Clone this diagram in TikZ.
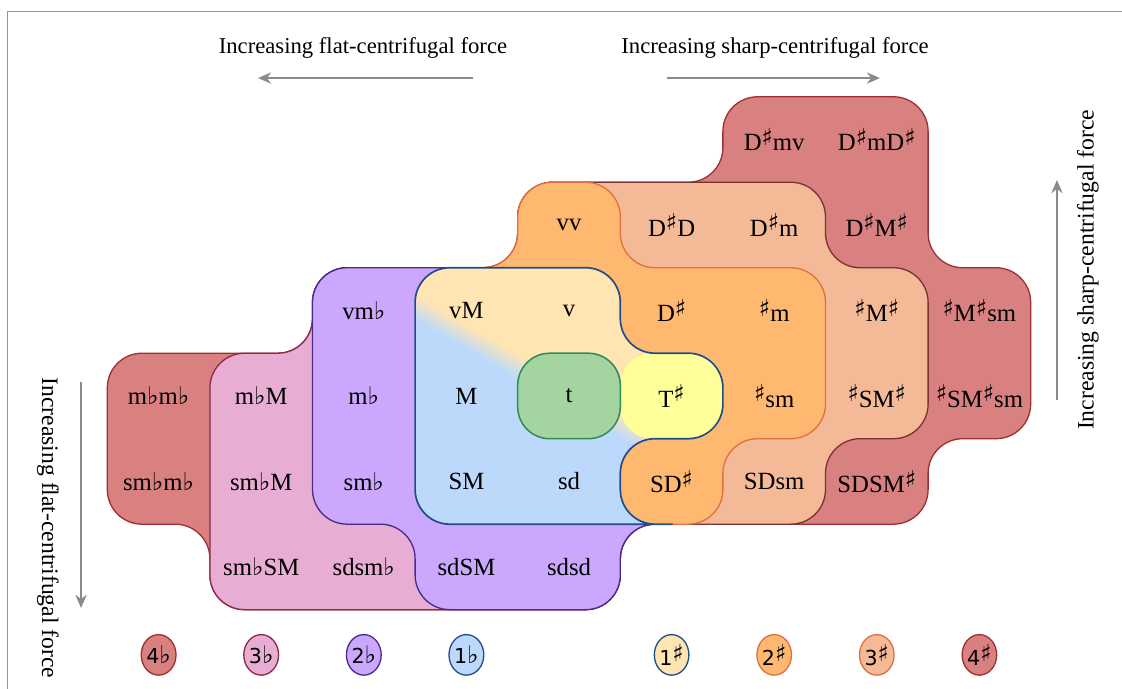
\documentclass[tikz,border=0pt]{standalone}
\usepackage{fontspec}
\setmainfont{Liberation Serif}
\newfontfamily\keyfont{DejaVu Sans}
\usetikzlibrary{arrows.meta,positioning,shapes.geometric}
\definecolor{flatone}{RGB}{188,217,252}
\definecolor{sharpone}{RGB}{255,229,178}
\definecolor{sharptwo}{RGB}{255,184,112}
\definecolor{sharpthree}{RGB}{244,185,150}
\definecolor{fourcol}{RGB}{217,128,128}
\definecolor{flattwo}{RGB}{203,168,253}
\definecolor{flatthree}{RGB}{232,173,211}
\definecolor{tonicgreen}{RGB}{164,212,160}
\definecolor{tonicline}{RGB}{46,139,87}
\definecolor{tsharp}{RGB}{255,255,153}
\definecolor{blueline}{RGB}{32,76,140}
\definecolor{orangeline}{RGB}{224,112,64}
\definecolor{salmonline}{RGB}{122,50,50}
\definecolor{redline}{RGB}{160,48,48}
\definecolor{pinkline}{RGB}{140,40,72}
\definecolor{purpleline}{RGB}{74,42,140}
\definecolor{arrowgray}{RGB}{138,138,138}
\definecolor{framegray}{RGB}{150,150,150}
\pgfdeclareverticalshading{toneshade}{100bp}{color(0bp)=(flatone); color(48bp)=(flatone); color(52bp)=(sharpone); color(100bp)=(sharpone)}
\newcommand{\shp}{\raisebox{0.22em}{\keyfont\fontsize{12.5}{12}\selectfont ♯}}
\newcommand{\flt}{{\keyfont\fontsize{13}{13}\selectfont ♭}}

\begin{document}
\begin{tikzpicture}[x=1.924cm, y=1.603cm,
  region/.style={line width=0.7pt, rounded corners=0.65cm},
  cell/.style={font=\fontsize{13.2}{15}\selectfont, inner sep=1pt},
  key/.style={ellipse, minimum width=0.6cm, minimum height=0.76cm, inner sep=0pt,
              line width=0.7pt, font=\keyfont\fontsize{11}{13}\selectfont},
  force/.style={draw=arrowgray, line width=1.1pt, -{Stealth[length=7pt,width=6pt]}},
  forcelabel/.style={font=\fontsize{12.1}{14}\selectfont, inner sep=0pt},
  sidelabel/.style={font=\fontsize{12.6}{14}\selectfont, inner sep=0pt}]
\useasboundingbox (-5.546,-3.427) rectangle (5.390,4.632);

% sharp regions, outermost first
\filldraw[region, fill=fourcol, draw=redline] (1.5,3.5) -- (3.5,3.5) -- (3.5,1.5) -- (4.5,1.5)
  -- (4.5,-0.5) -- (3.5,-0.5) -- (3.5,-1.5) -- (-1.5,-1.5) -- (-1.5,1.5) -- (-0.5,1.5)
  -- (-0.5,2.5) -- (1.5,2.5) -- cycle;
\filldraw[region, fill=sharpthree, draw=salmonline] (-0.5,2.5) -- (2.5,2.5) -- (2.5,1.5)
  -- (3.5,1.5) -- (3.5,-0.5) -- (2.5,-0.5) -- (2.5,-1.5) -- (-1.5,-1.5) -- (-1.5,1.5)
  -- (-0.5,1.5) -- cycle;
\filldraw[region, fill=sharptwo, draw=orangeline] (-0.5,2.5) -- (0.5,2.5) -- (0.5,1.5)
  -- (2.5,1.5) -- (2.5,-0.5) -- (1.5,-0.5) -- (1.5,-1.5) -- (-1.5,-1.5) -- (-1.5,1.5)
  -- (-0.5,1.5) -- cycle;

% flat regions
\filldraw[region, fill=fourcol, draw=redline] (-4.5,0.5) -- (-2.5,0.5) -- (-2.5,1.5)
  -- (-0.5,1.5) -- (-0.5,-0.5) [sharp corners] -- (1,-0.5) -- (1,-1.5)
  [rounded corners=0.65cm] -- (0.5,-1.5) -- (0.5,-2.5) -- (-3.5,-2.5) -- (-3.5,-1.5)
  -- (-4.5,-1.5) -- cycle;
\filldraw[region, fill=flatthree, draw=pinkline] (-3.5,0.5) -- (-2.5,0.5) -- (-2.5,1.5)
  -- (-0.5,1.5) -- (-0.5,-0.5) [sharp corners] -- (1,-0.5) -- (1,-1.5)
  [rounded corners=0.65cm] -- (0.5,-1.5) -- (0.5,-2.5) -- (-3.5,-2.5) -- cycle;
\filldraw[region, fill=flattwo, draw=purpleline] (-2.5,1.5) -- (-0.5,1.5) -- (-0.5,-0.5)
  [sharp corners] -- (1,-0.5) -- (1,-1.5) [rounded corners=0.65cm] -- (0.5,-1.5)
  -- (0.5,-2.5) -- (-1.5,-2.5) -- (-1.5,-1.5) -- (-2.5,-1.5) -- cycle;

% one-accidental region
\shade[region, shading=toneshade, shading angle=-30] (-1.5,1.5) -- (0.5,1.5) -- (0.5,0.5)
  -- (1.5,0.5) -- (1.5,-0.5) [sharp corners] -- (1,-0.5) -- (1,-1.5)
  [rounded corners=0.65cm] -- (-1.5,-1.5) -- cycle;
\node[cell, fill=tsharp, rounded corners=0.6cm, minimum width=1.924cm,
      minimum height=1.603cm] (Ts) at (1,0) {T\shp};
\fill[region, fill=sharptwo] (0.5,-0.5) rectangle (1.45,-1.49);
\draw[region, draw=blueline, line width=0.9pt] (1,-1.5) -- (-1.5,-1.5) -- (-1.5,1.5)
  -- (0.5,1.5) -- (0.5,0.5) -- (1.5,0.5) -- (1.5,-0.5) -- (0.5,-0.5) -- (0.5,-1.5) -- (1,-1.5);
\node[cell, draw=tonicline, fill=tonicgreen, line width=0.8pt, rounded corners=0.6cm,
      minimum width=1.924cm, minimum height=1.603cm] (t) at (0,0) {t};

% chord labels
\node[cell] (Dmv) at (2,3) {D\shp mv};
\node[cell] (DmD) at (3,3) {D\shp mD\shp};
\node[cell] (vv) at (0,2) {vv};
\node[cell] (DD) at (1,2) {D\shp D};
\node[cell] (Dm) at (2,2) {D\shp m};
\node[cell] (DM) at (3,2) {D\shp M\shp};
\node[cell] (vmf) at (-2,1) {vm\flt};
\node[cell] (vM) at (-1,1) {vM};
\node[cell] (v) at (0,1) {v};
\node[cell] (Ds) at (1,1) {D\shp};
\node[cell] (sm) at (2,1) {\shp m};
\node[cell] (MM) at (3,1) {\shp M\shp};
\node[cell] (MMsm) at (4,1) {\shp M\shp sm};
\node[cell] (mfmf) at (-4,0) {m\flt m\flt};
\node[cell] (mfM) at (-3,0) {m\flt M};
\node[cell] (mf) at (-2,0) {m\flt};
\node[cell] (M) at (-1,0) {M};
\node[cell] (ssm) at (2,0) {\shp sm};
\node[cell] (SMs) at (3,0) {\shp SM\shp};
\node[cell] (SMsm) at (4,0) {\shp SM\shp sm};
\node[cell] (smfmf) at (-4,-1) {sm\flt m\flt};
\node[cell] (smfM) at (-3,-1) {sm\flt M};
\node[cell] (smf) at (-2,-1) {sm\flt};
\node[cell] (SM) at (-1,-1) {SM};
\node[cell] (sd) at (0,-1) {sd};
\node[cell] (SDs) at (1,-1) {SD\shp};
\node[cell] (SDsm) at (2,-1) {SDsm};
\node[cell] (SDSM) at (3,-1) {SDSM\shp};
\node[cell] (smfSM) at (-3,-2) {sm\flt SM};
\node[cell] (sdsmf) at (-2,-2) {sdsm\flt};
\node[cell] (sdSM) at (-1,-2) {sdSM};
\node[cell] (sdsd) at (0,-2) {sdsd};

% key
\node[key, fill=fourcol, draw=redline] (kf4) at (-4,-3.029) {4\flt};
\node[key, fill=flatthree, draw=pinkline] (kf3) at (-3,-3.029) {3\flt};
\node[key, fill=flattwo, draw=purpleline] (kf2) at (-2,-3.029) {2\flt};
\node[key, fill=flatone, draw=blueline] (kf1) at (-1,-3.029) {1\flt};
\node[key, fill=sharpone, draw=blueline] (ks1) at (1,-3.029) {1\shp};
\node[key, fill=sharptwo, draw=orangeline] (ks2) at (2,-3.029) {2\shp};
\node[key, fill=sharpthree, draw=orangeline] (ks3) at (3,-3.029) {3\shp};
\node[key, fill=fourcol, draw=redline] (ks4) at (4,-3.029) {4\shp};

% force arrows
\coordinate (flatstart) at (-0.936,3.719);
\coordinate (flatend) at (-3.031,3.719);
\coordinate (sharpstart) at (0.955,3.719);
\coordinate (sharpend) at (3.031,3.719);
\coordinate (downstart) at (-4.756,0.164);
\coordinate (downend) at (-4.756,-2.480);
\coordinate (upstart) at (4.756,-0.047);
\coordinate (upend) at (4.756,2.526);
\draw[force] (flatstart) -- (flatend);
\draw[force] (sharpstart) -- (sharpend);
\draw[force] (downstart) -- (downend);
\draw[force] (upstart) -- (upend);
\node[forcelabel] (flatlabel) at (-2.008,4.076) {Increasing flat-centrifugal force};
\node[forcelabel] (sharplabel) at (2.008,4.076) {Increasing sharp-centrifugal force};
\node[sidelabel, rotate=-90] (downlabel) at (-5.078,-1.544) {Increasing flat-centrifugal force};
\node[sidelabel, rotate=90] (uplabel) at (5.058,1.474) {Increasing sharp-centrifugal force};

% frame
\draw[framegray, line width=1pt] (5.6,4.497) -- (-5.473,4.497) -- (-5.473,-3.6);
\end{tikzpicture}
\end{document}
